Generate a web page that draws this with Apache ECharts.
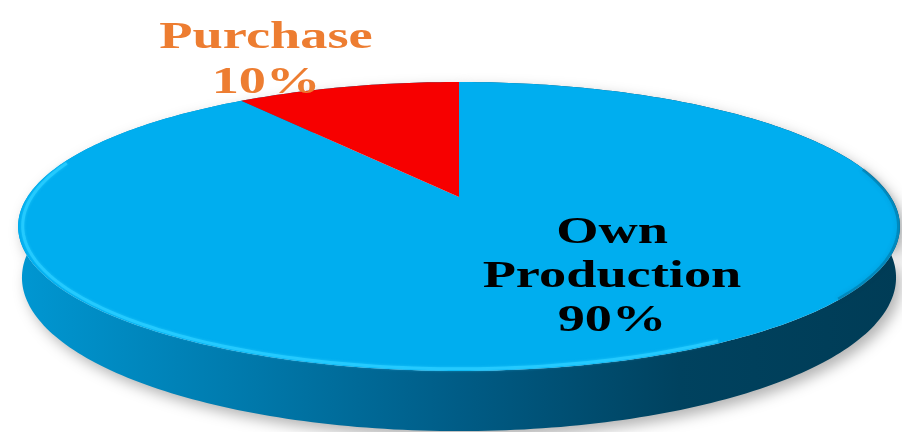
<!DOCTYPE html>
<html>
<head>
<meta charset="utf-8">
<script src="https://cdn.jsdelivr.net/npm/echarts@6/dist/echarts.min.js"></script>
<style>html,body{margin:0;padding:0;background:#fff}#c{width:902px;height:432px}</style>
</head>
<body>
<div id="c"></div>
<script>
// ---- data ----
const categories = ['Own Production', 'Purchase'];
const values = [90, 10];
const labelColors = ['#000000', '#ED7D31'];
const sliceColors = ['#00AEEF', '#F70000'];

// ---- layout (perspective projection of the disc) ----
const view = { cx: 459, cy: 197, F: 2004, D: 4.643, sinP: 0.3208, cosP: 0.9471, h: 0.122 };
const labelOffsets = [[153, 80], [-193, -136]];
const labelScaleX = 1.43;

function proj(theta, r, z) {
  const t = theta * Math.PI / 180;
  const X = r * Math.sin(t), Y = r * Math.cos(t);
  const depth = view.D + Y * view.cosP - z * view.sinP;
  const up = Y * view.sinP + z * view.cosP;
  return [view.cx + view.F * X / depth, view.cy - view.F * up / depth];
}
function arc(a0, a1, r, z) {
  const pts = [];
  const n = Math.max(2, Math.ceil(Math.abs(a1 - a0)));
  for (let i = 0; i <= n; i++) pts.push(proj(a0 + (a1 - a0) * i / n, r, z));
  return pts;
}

const total = values.reduce((a, b) => a + b, 0);
const starts = [];
values.reduce((acc, v, i) => { starts[i] = acc; return acc + v; }, 0);

const leftX = proj(270, 1, 0)[0] - 10, rightX = proj(90, 1, 0)[0] + 10;
const sideGradient = {
  type: 'linear', x: leftX, y: 0, x2: rightX, y2: 0, global: true,
  colorStops: [
    { offset: 0, color: '#0097D2' },
    { offset: 0.27, color: '#0078AA' },
    { offset: 0.5, color: '#005C86' },
    { offset: 0.75, color: '#00425F' },
    { offset: 1, color: '#003C56' }
  ]
};

function renderItem(params, api) {
  const i = params.dataIndex;
  const a0 = starts[i] / total * 360;
  const a1 = (starts[i] + values[i]) / total * 360;
  const top = arc(a0, a1, 1, 0);
  const bottom = arc(a1, a0, 1, -view.h);
  const center = proj(0, 0, 0);
  const children = [];
  children.push({
    type: 'polygon', z2: 1,
    shape: { points: top.concat(bottom) },
    style: { fill: sideGradient, shadowColor: 'rgba(0,0,0,0.3)', shadowBlur: 14, shadowOffsetX: 5, shadowOffsetY: 6 }
  });
  children.push({
    type: 'polygon', z2: 10,
    shape: { points: [center].concat(top) },
    style: { fill: sliceColors[i] }
  });
  if (i === 0) {
    // front rim highlight and right-edge shade
    children.push({
      type: 'polyline', z2: 11, silent: true,
      shape: { points: arc(285, 150, 0.99, 0) },
      style: { stroke: 'rgba(40,205,255,0.85)', lineWidth: 3, fill: null, shadowColor: 'rgba(40,205,255,0.8)', shadowBlur: 3 }
    });
    children.push({
      type: 'polyline', z2: 11, silent: true,
      shape: { points: arc(130, 78, 0.997, 0) },
      style: { stroke: 'rgba(0,70,100,0.3)', lineWidth: 3, fill: null, shadowColor: 'rgba(0,70,100,0.5)', shadowBlur: 5 }
    });
  }
  const name = categories[i];
  const lbl = name.replace(' ', '\n') + '\n' + api.value(0) + '%';
  children.push({
    type: 'text', z2: 20, silent: true,
    x: center[0] + labelOffsets[i][0], y: center[1] + labelOffsets[i][1],
    scaleX: labelScaleX,
    style: {
      text: lbl, fill: labelColors[i], align: 'center', verticalAlign: 'middle',
      font: 'bold 38px "Liberation Serif", "Times New Roman", serif',
      lineHeight: i === 0 ? 44 : 45
    }
  });
  return { type: 'group', children: children };
}

const chart = echarts.init(document.getElementById('c'), null, { renderer: 'canvas' });
chart.setOption({
  animation: false,
  backgroundColor: '#ffffff',
  series: [{
    type: 'custom',
    coordinateSystem: 'none',
    renderItem: renderItem,
    data: categories.map((c, i) => ({ name: c, value: [values[i]] }))
  }]
});
</script>
</body>
</html>
